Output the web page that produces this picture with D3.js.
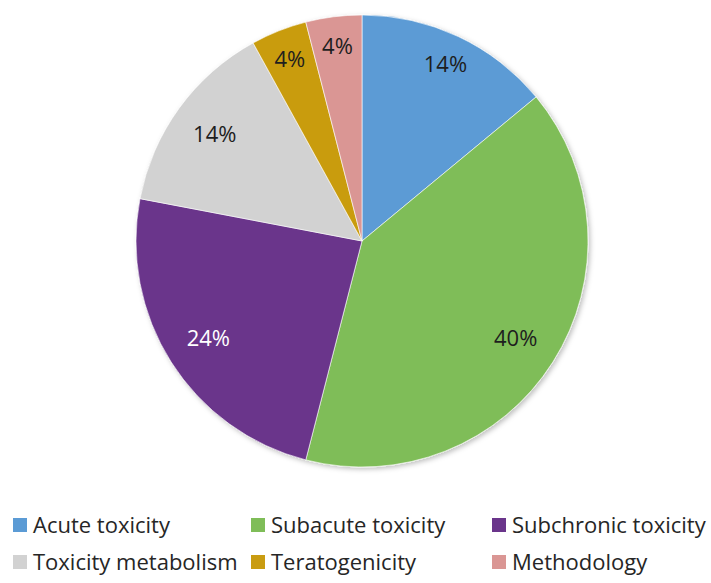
<!DOCTYPE html>
<html>
<head>
<meta charset="utf-8">
<style>
    body { margin: 0; background: #fff; }
    text { font-family: "Open Sans", sans-serif; }
</style>
</head>
<body>
<script src="https://cdn.jsdelivr.net/npm/d3@7"></script>
<script>

    var categories = ["Acute toxicity", "Subacute toxicity", "Subchronic toxicity",
                      "Toxicity metabolism", "Teratogenicity", "Methodology"];
    var values = [14, 40, 24, 14, 4, 4];
    var colors = ["#5b9bd5", "#7fbd58", "#6a358b", "#d2d2d2", "#c99c11", "#da9694"];
    var labelColors = ["#1e1e1e", "#1e1e1e", "#ffffff", "#1e1e1e", "#1e1e1e", "#1e1e1e"];

    // legend is laid out in a 3 x 2 grid
    var legendCols = [13, 251, 492];
    var legendRows = [533, 570];

    var width = 711, height = 583;
    var cx = 362, cy = 241, radius = 226;

    var svg = d3.select("body").append("svg")
        .attr("width", width)
        .attr("height", height);

    var defs = svg.append("defs");
    defs.append("filter")
        .attr("id", "shadow")
        .attr("x", "-10%").attr("y", "-10%")
        .attr("width", "120%").attr("height", "120%")
        .append("feDropShadow")
        .attr("dx", 2).attr("dy", 2)
        .attr("stdDeviation", 2.5)
        .attr("flood-color", "#000")
        .attr("flood-opacity", 0.25);

    var data = categories.map(function (c, i) {
        return { name: c, value: values[i], color: colors[i], label: labelColors[i] };
    });

    var pie = d3.pie()
        .value(function (d) { return d.value; })
        .sort(null);

    var arc = d3.arc().innerRadius(0).outerRadius(radius);

    var arcs = pie(data);

    var g = svg.append("g")
        .attr("transform", "translate(" + cx + "," + cy + ")");

    g.append("g")
        .attr("filter", "url(#shadow)")
        .selectAll("path")
        .data(arcs)
        .enter()
        .append("path")
        .attr("d", arc)
        .attr("fill", function (d) { return d.data.color; })
        .attr("stroke", "#fff")
        .attr("stroke-width", 0.6);

    // labels near the top sit a bit further out
    function labelRadius(d) {
        var mid = (d.startAngle + d.endAngle) / 2 * 180 / Math.PI;
        return (mid < 30 || mid > 330) ? 196 : 182;
    }

    g.selectAll("text.pct")
        .data(arcs)
        .enter()
        .append("text")
        .attr("class", "pct")
        .attr("transform", function (d) {
            var r = labelRadius(d);
            var c = d3.arc().innerRadius(r).outerRadius(r).centroid(d);
            return "translate(" + c[0] + "," + c[1] + ")";
        })
        .attr("text-anchor", "middle")
        .attr("dy", "0.36em")
        .attr("font-size", 22)
        .attr("fill", function (d) { return d.data.label; })
        .text(function (d) { return d.data.value + "%"; });

    var legend = svg.append("g").attr("class", "legend");

    var items = legend.selectAll("g")
        .data(data)
        .enter()
        .append("g")
        .attr("transform", function (d, i) {
            return "translate(" + legendCols[i % 3] + "," + legendRows[Math.floor(i / 3)] + ")";
        });

    items.append("rect")
        .attr("x", 0)
        .attr("y", -15)
        .attr("width", 14)
        .attr("height", 14)
        .attr("fill", function (d) { return d.color; });

    items.append("text")
        .attr("x", 20)
        .attr("y", 0)
        .attr("font-size", 22)
        .attr("fill", "#262626")
        .text(function (d) { return d.name; });

</script>
</body>
</html>
